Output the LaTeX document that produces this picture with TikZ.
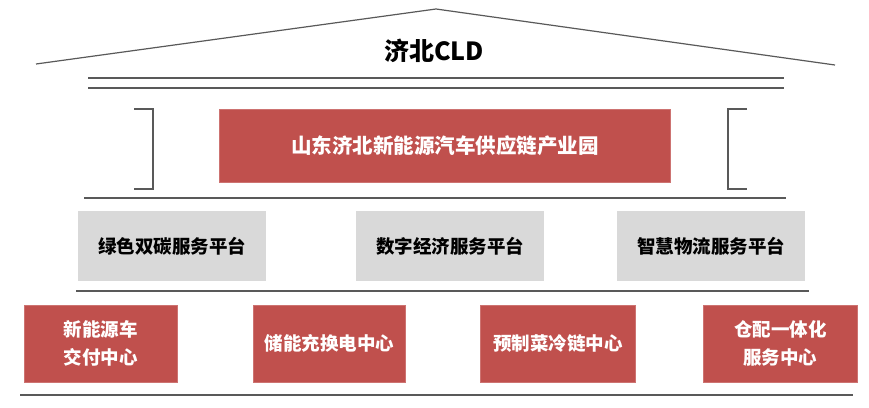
\documentclass[tikz,border=0pt]{standalone}
\usepackage{fontspec}
\setmainfont{Noto Sans CJK SC}
\definecolor{boxred}{HTML}{C0504D}
\definecolor{boxgray}{HTML}{D9D9D9}
\definecolor{linegray}{HTML}{595959}
\begin{document}
\begin{tikzpicture}[x=1pt,y=-1pt,
  redbox/.style={fill=boxred,draw=boxred!80!white,line width=0.6pt,text=white,font=\bfseries\fontsize{18.5}{28}\selectfont,align=center,inner sep=0pt},
  graybox/.style={fill=boxgray,draw=none,text=black,font=\bfseries\fontsize{18.5}{28}\selectfont,align=center,inner sep=0pt},
  hline/.style={draw=linegray,line width=1.6pt},
  thinline/.style={draw=linegray,line width=1.2pt}]
\useasboundingbox (0,0) rectangle (869,407);
% roof
\coordinate (rl) at (36,64);
\coordinate (ra) at (436,9);
\coordinate (rr) at (835,65);
\draw[thinline] (rl) -- (ra) -- (rr);
\node[font=\bfseries\fontsize{25}{28}\selectfont] (title) at (434,51) {济北CLD};
% double lines
\coordinate (d1l) at (88,78); \coordinate (d1r) at (784,78);
\coordinate (d2l) at (88,88); \coordinate (d2r) at (784,88);
\draw[thinline] (d1l) -- (d1r);
\draw[thinline] (d2l) -- (d2r);
% main box
\node[redbox,font=\bfseries\fontsize{20.5}{28}\selectfont,minimum width=451pt,minimum height=73pt,anchor=north west] (park) at (219,109) {山东济北新能源汽车供应链产业园};
% brackets
\coordinate (lb1) at (134,109); \coordinate (lb2) at (153,109);
\coordinate (lb3) at (153,189); \coordinate (lb4) at (134,189);
\draw[thinline] (lb1) -- (lb2) -- (lb3) -- (lb4);
\coordinate (rb1) at (747,109); \coordinate (rb2) at (728,109);
\coordinate (rb3) at (728,189); \coordinate (rb4) at (747,189);
\draw[thinline] (rb1) -- (rb2) -- (rb3) -- (rb4);
% line 2
\coordinate (l2l) at (84,198); \coordinate (l2r) at (786,198);
\draw[hline] (l2l) -- (l2r);
% gray boxes
\node[graybox,minimum width=188pt,minimum height=70pt,anchor=north west] (g1) at (78,211) {绿色双碳服务平台};
\node[graybox,minimum width=188pt,minimum height=70pt,anchor=north west] (g2) at (356,211) {数字经济服务平台};
\node[graybox,minimum width=188pt,minimum height=70pt,anchor=north west] (g3) at (617,211) {智慧物流服务平台};
% line 3
\coordinate (l3l) at (76,291); \coordinate (l3r) at (809,291);
\draw[hline] (l3l) -- (l3r);
% bottom red boxes
\node[redbox,minimum width=153pt,minimum height=77pt,anchor=north west] (b1) at (24,305) {新能源车\\交付中心};
\node[redbox,minimum width=152pt,minimum height=77pt,anchor=north west] (b2) at (253,305) {储能充换电中心};
\node[redbox,minimum width=155pt,minimum height=77pt,anchor=north west] (b3) at (480,305) {预制菜冷链中心};
\node[redbox,minimum width=154pt,minimum height=77pt,anchor=north west] (b4) at (703,305) {仓配一体化\\服务中心};
% bottom line
\coordinate (l4l) at (20,395); \coordinate (l4r) at (853,395);
\draw[hline] (l4l) -- (l4r);
\end{tikzpicture}
\end{document}
